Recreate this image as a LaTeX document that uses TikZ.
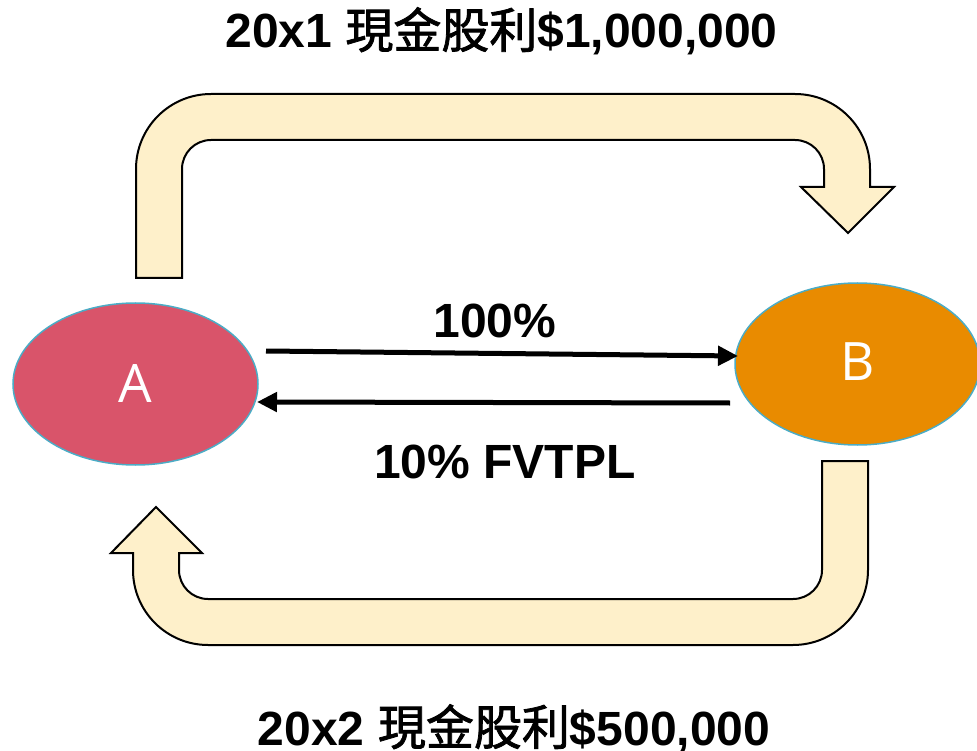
\documentclass[tikz,border=0pt]{standalone}
\usepackage{fontspec}
\setmainfont{Liberation Sans}
\newfontfamily\cjk{Noto Sans CJK TC}[FakeBold=1.6]
\newfontfamily\lettersans{Open Sans}
\usetikzlibrary{arrows.meta,shapes.geometric}
\definecolor{bandfill}{HTML}{FEF0CA}
\definecolor{afill}{HTML}{D9546A}
\definecolor{bfill}{HTML}{E98B00}
\definecolor{rimblue}{HTML}{4BACC6}
\tikzset{
  uturn/.style={fill=bandfill, draw=black, line width=2pt, line join=miter},
  party/.style={ellipse, draw=rimblue, line width=1.5pt, inner sep=0pt,
    minimum width=245pt, minimum height=162pt, text=white,
    font=\lettersans\fontsize{53}{60}\selectfont},
  caption/.style={inner sep=0pt, anchor=base,
    font=\bfseries\fontsize{48}{58}\selectfont},
  flow/.style={line width=5pt, -{Triangle[length=20pt,width=19pt]}}
}
\begin{document}
\begin{tikzpicture}[x=1pt,y=-1pt]
\useasboundingbox (0,0) rectangle (977,751);

% upper U-turn band, A to B
\draw[uturn] (136,278) -- (136,169)
  arc[start angle=180,end angle=270,radius=75] -- (795,94)
  arc[start angle=270,end angle=360,radius=75] -- (870,187)
  -- (894,187) -- (848,233) -- (801,187) -- (824,187) -- (824,169)
  arc[start angle=0,end angle=-90,radius=29] -- (211,140)
  arc[start angle=270,end angle=180,radius=29] -- (182,278) -- cycle;

% lower U-turn band, B back to A
\draw[uturn] (868,461) -- (868,570)
  arc[start angle=0,end angle=90,radius=75] -- (208,645)
  arc[start angle=90,end angle=180,radius=75] -- (133,553)
  -- (111,553) -- (156,507) -- (202,553) -- (179,553) -- (179,570)
  arc[start angle=180,end angle=90,radius=29] -- (793,599)
  arc[start angle=90,end angle=0,radius=29] -- (822,461) -- cycle;

% the two companies
\node[party, fill=afill] (A) at (135.5,384) {A};
\node[party, fill=bfill] (B) at (857.5,364) {\raisebox{4pt}{B}};

% holdings between them
\coordinate (aOut) at (266,351);
\coordinate (bIn)  at (738,356);
\coordinate (bOut) at (730,403);
\coordinate (aIn)  at (257,402);
\draw[flow] (aOut) -- (bIn);
\draw[flow] (bOut) -- (aIn);

% captions
\node[caption] (top) at (501.5,48) {20x1 {\cjk\mdseries 現金股利}\$1,000,000};
\node[caption] (pct) at (495,337) {100\%};
\node[caption] (fv)  at (505,478) {10\% FVTPL};
\node[caption] (bot) at (514,745) {20x2 {\cjk\mdseries 現金股利}\$500,000};
\end{tikzpicture}
\end{document}
